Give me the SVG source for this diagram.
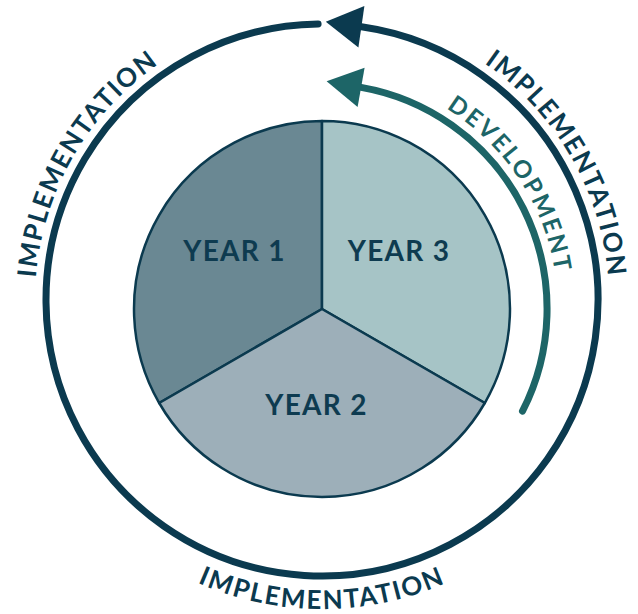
<svg xmlns="http://www.w3.org/2000/svg" xmlns:xlink="http://www.w3.org/1999/xlink" width="638" height="614" viewBox="0 0 638 614">
<style>
.seg{stroke:#0b3a4f;stroke-width:2.5;stroke-linejoin:round}
.year{font-family:Lato,"Open Sans","Liberation Sans",sans-serif;font-weight:700;font-size:28px;fill:#0e3b50;letter-spacing:1.3px;text-anchor:middle}
.impl{font-family:Lato,"Open Sans","Liberation Sans",sans-serif;font-weight:700;font-size:26px;fill:#0b3a4f;letter-spacing:1.8px}
.dev{font-family:Lato,"Open Sans","Liberation Sans",sans-serif;font-weight:700;font-size:24px;fill:#1d6567;letter-spacing:2.4px}
.navyline{fill:none;stroke:#0b3a4f;stroke-width:7;stroke-linecap:round}
.tealline{fill:none;stroke:#1d6567;stroke-width:7;stroke-linecap:round}
</style>
<defs>
<path id="pLeft" d="M73.5,443.5 A287,287 0 0 1 322,13"/>
<path id="pRight" d="M322,13 A287,287 0 0 1 570.5,443.5"/>
<path id="pBottom" d="M54.4,454.5 A309,309 0 0 0 589.6,454.5"/>
<path id="pDev" d="M308.1,74.4 A234,234 0 0 1 532.1,414.2"/>
</defs>
<rect width="638" height="614" fill="#ffffff"/>
<g id="year1">
<path class="seg" d="M322,309 L322,121 A188,188 0 0 0 159.2,403 Z" fill="#6a8893"/>
<text class="year" x="234.5" y="261">YEAR 1</text>
</g>
<g id="year3">
<path class="seg" d="M322,309 L322,121 A188,188 0 0 1 484.8,403 Z" fill="#a6c4c6"/>
<text class="year" x="399" y="261">YEAR 3</text>
</g>
<g id="year2">
<path class="seg" d="M322,309 L159.2,403 A188,188 0 0 0 484.8,403 Z" fill="#9dafb9"/>
<text class="year" x="316.5" y="415">YEAR 2</text>
</g>
<g id="connectors">
<path class="navyline" d="M318.1,24 A276,276 0 1 0 361.4,26.8"/>
<polygon fill="#0b3a4f" points="325.8,21.7 364.4,6 358.4,47.6"/>
<path class="tealline" d="M522.5,411.2 A225,225 0 0 0 361.1,87.4"/>
<polygon fill="#1d6567" points="326.6,81.3 364.6,67.7 357.6,107.1"/>
</g>
<g id="labels">
<text class="impl"><textPath xlink:href="#pLeft" href="#pLeft" startOffset="50%" text-anchor="middle">IMPLEMENTATION</textPath></text>
<text class="impl"><textPath xlink:href="#pRight" href="#pRight" startOffset="50%" text-anchor="middle">IMPLEMENTATION</textPath></text>
<text class="impl"><textPath xlink:href="#pBottom" href="#pBottom" startOffset="50%" text-anchor="middle">IMPLEMENTATION</textPath></text>
<text class="dev"><textPath xlink:href="#pDev" href="#pDev" startOffset="50%" text-anchor="middle">DEVELOPMENT</textPath></text>
</g>
</svg>
